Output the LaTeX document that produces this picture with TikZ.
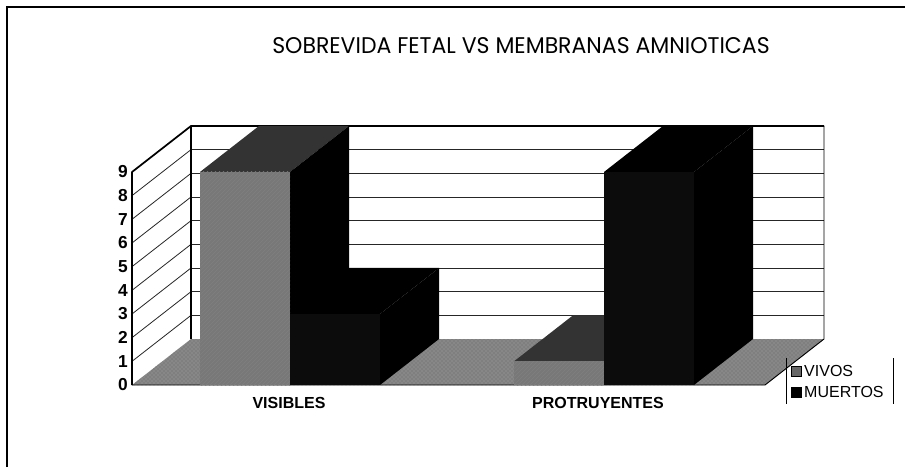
\documentclass[tikz,border=0pt]{standalone}
\usepackage{fontspec}
\setmainfont{Liberation Sans}
\newfontfamily\gotica{Poppins}
\usepackage{graphicx}
\usetikzlibrary{patterns}
\definecolor{GrisVivos}{RGB}{120,120,120}
\definecolor{GrisPiso}{RGB}{135,135,135}
\definecolor{Muertos}{RGB}{12,12,12}
\tikzset{
    marco/.style={
        line width=1.1pt
    },
    rejilla/.style={
        line width=0.6pt, black!85
    },
    borde/.style={
        line width=1.3pt, line join=round
    },
    piso/.style={
        fill=GrisPiso, postaction={pattern=crosshatch dots, pattern color=black!60}
    },
    vivofrente/.style={
        fill=GrisVivos, postaction={pattern=north east lines, pattern color=black!50}
    },
    vivotecho/.style={
        fill=black!80
    },
    muertofrente/.style={
        fill=Muertos
    },
    lado/.style={
        fill=black
    },
    valor/.style={
        font=\bfseries\fontsize{13}{14}\selectfont, anchor=east, inner sep=0pt
    },
    categoria/.style={
        font=\bfseries\fontsize{12}{13}\selectfont, inner sep=0pt
    },
    leyenda/.style={
        font=\fontsize{12}{13}\selectfont, anchor=west, inner sep=0pt
    }
}
% unidad del eje y ancho de columna, en px
\def\unidad{23.67}
\def\ancho{90}
% columna 3D: x izquierda, valor, frente, techo, lado
\newcommand{\columna}[5]{%
    \pgfmathsetmacro{\xa}{#1}
    \pgfmathsetmacro{\xb}{#1+\ancho}
    \pgfmathsetmacro{\yt}{385-#2*\unidad}
    \fill[#4] (\xa,\yt) -- (\xb,\yt) -- ++(59,-46) -- ({\xa+59},{\yt-46}) -- cycle;
    \fill[#5] (\xb,385) -- (\xb,\yt) -- ++(59,-46) -- ({\xb+59},339) -- cycle;
    \fill[#3] (\xa,385) rectangle (\xb,\yt);
}

\begin{document}
\begin{tikzpicture}[x=0.75pt, y=-0.75pt]
    \useasboundingbox (0,0) rectangle (905,467);

    % --- marco del grafico ---
    \draw[marco] (7,467) -- (7,7) -- (905,7);

    % --- titulo ---
    \node (titulo) at (521,46) {\resizebox{373pt}{12pt}{\gotica SOBREVIDA FETAL VS MEMBRANAS AMNIOTICAS}};

    % --- paredes y piso ---
    \fill[white] (191,126) rectangle (824,339);
    \foreach \k in {1,...,8}
        \draw[rejilla] (191,{339-\k*\unidad}) -- (824,{339-\k*\unidad});
    \fill[white] (132,385) -- (132,172) -- (191,126) -- (191,339) -- cycle;
    \foreach \k in {1,...,8}
        \draw[rejilla] (132,{385-\k*\unidad}) -- (191,{339-\k*\unidad});
    \fill[piso] (132,385) -- (765,385) -- (824,339) -- (191,339) -- cycle;
    \draw[borde] (132,385) -- (132,172) -- (191,126) -- (824,126);
    \draw[borde] (191,126) -- (191,339);
    \draw[line width=0.7pt] (824,126) -- (824,339) -- (765,385) -- (132,385);

    % --- columnas ---
    \columna{200}{9}{vivofrente}{vivotecho}{lado}
    \columna{290}{3}{muertofrente}{lado}{lado}
    \columna{514}{1}{vivofrente}{vivotecho}{lado}
    \columna{604}{9}{muertofrente}{lado}{lado}

    % --- eje de valores ---
    \foreach \k in {0,...,9}
        \node[valor] (v\k) at (128,{385-\k*\unidad}) {\k};

    % --- categorias ---
    \node[categoria] (visibles) at (289,403) {VISIBLES};
    \node[categoria] (protruyentes) at (598,403) {PROTRUYENTES};

    % --- leyenda ---
    \draw[line width=0.5pt] (786,358) -- (786,404);
    \draw[line width=0.5pt] (893,358) -- (893,404);
    \node[draw, fill=black!60, minimum size=7.5pt, inner sep=0pt] (cvivos) at (796,371) {};
    \node[leyenda] (vivos) at (cvivos.east) {\,VIVOS};
    \node[draw, fill=black, minimum size=7.5pt, inner sep=0pt] (cmuertos) at (796,392) {};
    \node[leyenda] (muertos) at (cmuertos.east) {\,MUERTOS};
\end{tikzpicture}
\end{document}
